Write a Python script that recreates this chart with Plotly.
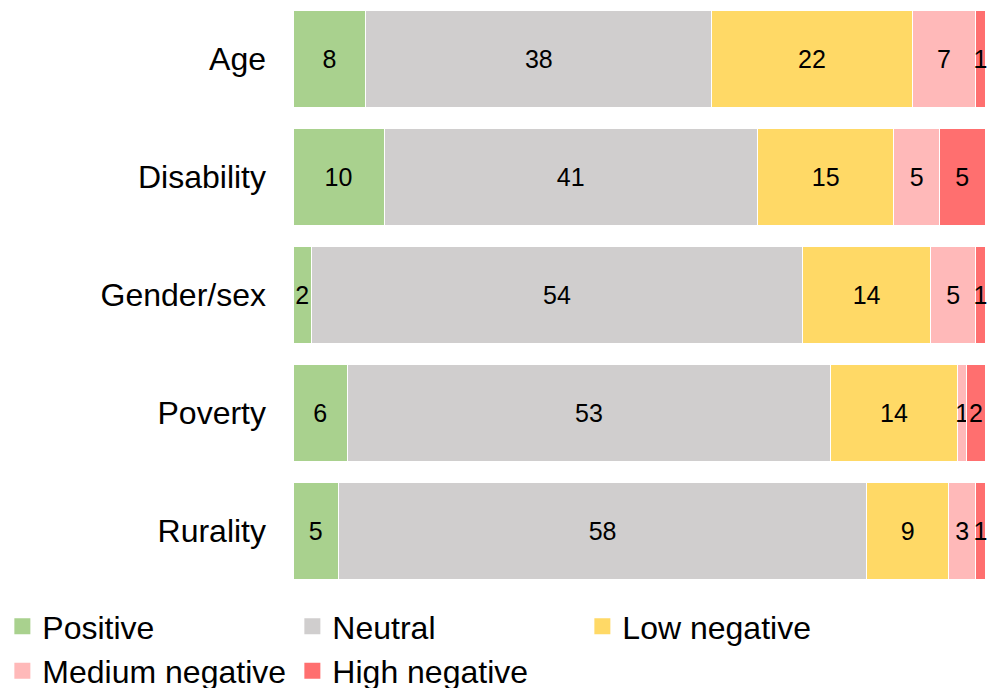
import plotly.graph_objects as go

categories = ["Age", "Disability", "Gender/sex", "Poverty", "Rurality"]
series_names = ["Positive", "Neutral", "Low negative", "Medium negative", "High negative"]
positive = [8, 10, 2, 6, 5]
neutral = [38, 41, 54, 53, 58]
low_negative = [22, 15, 14, 14, 9]
medium_negative = [7, 5, 5, 1, 3]
high_negative = [1, 5, 1, 2, 1]
colors = ["#A9D18E", "#D0CECE", "#FFD966", "#FFB9B9", "#FF6F6F"]

values = [positive, neutral, low_negative, medium_negative, high_negative]

fig = go.Figure()
for name, vals, col in zip(series_names, values, colors):
    fig.add_trace(go.Bar(
        y=categories, x=vals, name=name, orientation="h",
        marker=dict(color=col, line=dict(color="white", width=1)),
        text=[str(v) for v in vals], textposition="inside",
        insidetextanchor="middle",
        textfont=dict(family="Liberation Sans, Arial", size=25, color="black"),
        cliponaxis=False, showlegend=False, legendgroup=name,
    ))
# legend entries with larger square swatches
for name, col in zip(series_names, colors):
    fig.add_trace(go.Scatter(
        x=[None], y=[None], mode="markers", name=name, legendgroup=name,
        marker=dict(symbol="square", size=17, color=col, line=dict(width=0)),
        showlegend=True, hoverinfo="skip",
    ))

fig.update_layout(
    barmode="stack",
    bargap=0.17,
    width=988, height=688,
    margin=dict(l=293, r=3, t=0, b=98, autoexpand=False),
    plot_bgcolor="white", paper_bgcolor="white",
    font=dict(family="Liberation Sans, Arial", color="black"),
    uniformtext=dict(minsize=25, mode="show"),
    showlegend=True,
    legend=dict(
        orientation="h", xref="paper", yref="paper",
        x=-0.42, y=-0.015, xanchor="left", yanchor="top",
        font=dict(size=32, family="Liberation Sans, Arial"),
        entrywidth=245, entrywidthmode="pixels",
        traceorder="normal", itemclick=False, itemdoubleclick=False,
        tracegroupgap=0,
    ),
)
fig.update_xaxes(range=[0, 76], visible=False, showgrid=False)
fig.update_yaxes(autorange="reversed", showgrid=False, showline=False, ticks="",
                 tickfont=dict(size=32, family="Liberation Sans, Arial"),
                 ticklabelstandoff=26)

fig.write_html("out.html")
